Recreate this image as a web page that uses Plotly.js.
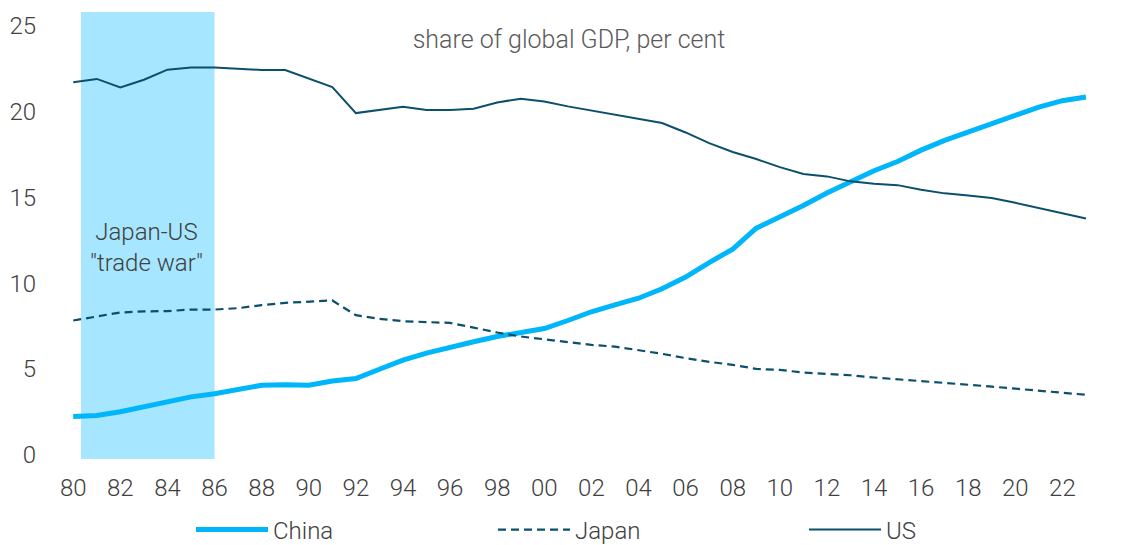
<!DOCTYPE html>
<html>
<head>
<meta charset="utf-8">
<script src="https://cdn.plot.ly/plotly-3.0.1.min.js"></script>
<style>
html,body{margin:0;padding:0;background:#fff;}
#chart{width:1121px;height:545px;}
</style>
</head>
<body>
<div id="chart"></div>
<script>
const years = [1980,1981,1982,1983,1984,1985,1986,1987,1988,1989,1990,1991,1992,1993,1994,1995,1996,1997,1998,1999,2000,2001,2002,2003,2004,2005,2006,2007,2008,2009,2010,2011,2012,2013,2014,2015,2016,2017,2018,2019,2020,2021,2022,2023];
const china = [2.22,2.28,2.5,2.77,3.08,3.37,3.55,3.82,4.05,4.07,4.05,4.3,4.44,4.98,5.51,5.92,6.27,6.58,6.89,7.12,7.35,7.82,8.33,8.73,9.12,9.67,10.35,11.2,11.98,13.2,13.85,14.52,15.25,15.93,16.55,17.09,17.75,18.32,18.8,19.31,19.81,20.26,20.63,20.85];
const japan = [7.82,8.05,8.29,8.35,8.37,8.46,8.46,8.54,8.72,8.85,8.91,8.99,8.13,7.92,7.78,7.74,7.68,7.41,7.12,6.89,6.73,6.6,6.4,6.3,6.11,5.88,5.63,5.41,5.24,5.0,4.94,4.79,4.71,4.63,4.5,4.4,4.3,4.2,4.09,3.97,3.85,3.74,3.62,3.49];
const us = [21.7,21.9,21.41,21.85,22.44,22.57,22.57,22.5,22.42,22.42,21.91,21.43,19.91,20.09,20.28,20.09,20.09,20.16,20.53,20.75,20.59,20.3,20.06,19.85,19.58,19.33,18.78,18.16,17.64,17.23,16.76,16.36,16.22,15.93,15.79,15.71,15.44,15.23,15.11,14.96,14.68,14.39,14.1,13.77];
const tickYears = [1980,1982,1984,1986,1988,1990,1992,1994,1996,1998,2000,2002,2004,2006,2008,2010,2012,2014,2016,2018,2020,2022];
const tickLabels = ["80","82","84","86","88","90","92","94","96","98","00","02","04","06","08","10","12","14","16","18","20","22"];
const yTicks = [0,5,10,15,20,25];
const shadeStart = 1980.33, shadeEnd = 1986;
const chartTitle = "share of global GDP, per cent";
const noteText = 'Japan-US<br>"trade war"';

const FONT = "Roboto, 'Open Sans', sans-serif";
const dark = "#0B4F6C";
const txt = "#404040";

const traces = [
  {x: years, y: china, name: "China", type: "scatter", mode: "lines", legend: "legend",
   line: {color: "#00B6FA", width: 5}},
  {x: years, y: japan, name: "Japan", type: "scatter", mode: "lines", legend: "legend2",
   line: {color: dark, width: 2.2, dash: "8px,5px"}},
  {x: years, y: us, name: "US", type: "scatter", mode: "lines", legend: "legend3",
   line: {color: dark, width: 2}}
];

function leg(xpx) {
  return {orientation: "h", xref: "container", yref: "container",
          x: xpx / 1121, xanchor: "left", y: 1 - 530 / 545, yanchor: "middle",
          itemwidth: 72, bgcolor: "rgba(0,0,0,0)", borderwidth: 0,
          font: {family: FONT, size: 24, color: txt, weight: 300}};
}

const layout = {
  width: 1121, height: 545,
  margin: {l: 45, r: 15, t: 12, b: 86, autoexpand: false},
  paper_bgcolor: "#fff", plot_bgcolor: "#fff",
  font: {family: FONT, color: txt, size: 24, weight: 300},
  showlegend: true,
  hovermode: false,
  title: {text: chartTitle, font: {family: FONT, size: 25, color: "#5a5a5a", weight: 300},
          xref: "container", x: 569 / 1121, xanchor: "center", yref: "container", y: 1 - 39 / 545, yanchor: "middle"},
  xaxis: {range: [1978.8, 2023.85], tickmode: "array", tickvals: tickYears, ticktext: tickLabels,
          showgrid: false, zeroline: false, showline: false, ticks: "", ticklabelstandoff: 12,
          tickfont: {family: FONT, size: 24, color: txt, weight: 300}},
  yaxis: {range: [-0.25, 25.8], tickmode: "array", tickvals: yTicks,
          showgrid: false, zeroline: false, showline: false, ticks: "", ticklabelstandoff: 8,
          tickfont: {family: FONT, size: 24, color: txt, weight: 300}},
  shapes: [{type: "rect", xref: "x", yref: "paper", x0: shadeStart, x1: shadeEnd, y0: 0, y1: 1,
            fillcolor: "#A6E6FF", line: {width: 0}, layer: "below"}],
  annotations: [{text: noteText, x: 1983.1, y: 12.06, xref: "x", yref: "y", showarrow: false,
                 align: "center", font: {family: FONT, size: 24, color: txt, weight: 300}}],
  legend: leg(191),
  legend2: leg(493),
  legend3: leg(804)
};

Plotly.newPlot("chart", traces, layout, {displayModeBar: false, staticPlot: true});
</script>
</body>
</html>
